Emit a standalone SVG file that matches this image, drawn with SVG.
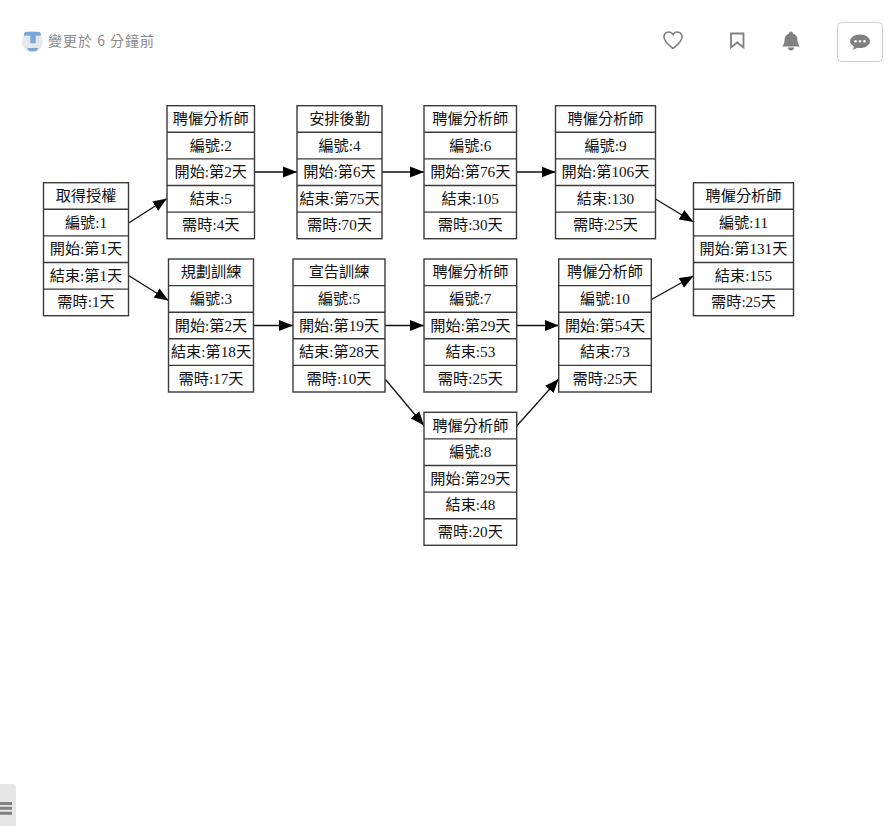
<svg xmlns="http://www.w3.org/2000/svg" width="892" height="826" viewBox="0 0 892 826">
<style>
.b{fill:#fff;stroke:#3a3a3a;stroke-width:1.4}
.r{stroke:#3a3a3a;stroke-width:1.4}
.t{font:15.2px "Liberation Serif","Noto Sans CJK TC",serif;fill:#111;text-anchor:middle}
.e{stroke:#111;stroke-width:1.3;fill:none;marker-end:url(#a)}
.i{fill:#808080}
</style>
<defs>
<marker id="a" markerUnits="userSpaceOnUse" markerWidth="15" markerHeight="12" refX="14" refY="6" orient="auto"><path d="M0 .5L14 6L0 11.500z" fill="#000"/></marker>
</defs>
<rect width="892" height="826" fill="#fff"/>
<g id="header">
<circle cx="32.300" cy="41.500" r="10.500" fill="#e6e8ec"/>
<path d="M26.500 31.700h11.500a2.800 2.800 0 0 1 2.700 4h-5v7.500h-5.400v-7.500h-6.200a2.800 2.800 0 0 1 2.400-4zM27 48h11.500a10 10 0 0 1-2.500 3.300h-6.500a10 10 0 0 1-2.500-3.300z" fill="#7ba6da"/>
<text x="48" y="46" style="font:14px 'Noto Sans CJK TC','Noto Sans',sans-serif;letter-spacing:1px" fill="#8a8a8a">變更於 6 分鐘前</text>
<path d="M673 48.500c-3-2.500-9-6.500-9-11.500a4.800 4.800 0 0 1 9-2.500a4.800 4.800 0 0 1 9 2.500c0 5-6 9-9 11.500z" fill="none" stroke="#808080" stroke-width="1.600"/>
<path d="M731 33.500h12.500v14l-6.250-5l-6.250 5z" fill="none" stroke="#808080" stroke-width="1.800"/>
<path class="i" d="M791 31.500a2 2 0 0 1 2 2c3 1 4.500 3.500 4.500 7c0 3 1.500 5 2.500 6h-18c1-1 2.500-3 2.500-6c0-3.500 1.500-6 4.500-7a2 2 0 0 1 2-2zM788 47.500h6a3 3 0 0 1-6 0z"/>
<rect x="837.500" y="22.500" width="45" height="39" rx="4" fill="#fff" stroke="#cfcfcf"/>
<path class="i" d="M860 34.500c5.500 0 10 2.900 10 6.800s-4.500 6.800-10 6.800c-1 0-2-.1-2.900-.3c-1.300 1-3 1.700-4.600 1.900c.8-.9 1.400-2 1.600-3.300c-2.500-1.200-4.100-3-4.100-5.100c0-3.900 4.500-6.800 10-6.800z"/>
<g fill="#fff"><circle cx="855.500" cy="41.300" r="1.300"/><circle cx="860" cy="41.300" r="1.300"/><circle cx="864.500" cy="41.300" r="1.300"/></g>
</g>
<g id="connectors">
<path class="e" d="M129 222.700L167 198.500"/>
<path class="e" d="M129 275.700L168.500 300.500"/>
<path class="e" d="M254.500 172H297"/>
<path class="e" d="M382 172H424"/>
<path class="e" d="M516.500 172H555.500"/>
<path class="e" d="M655.500 199L693.500 222"/>
<path class="e" d="M253.500 325.500H293"/>
<path class="e" d="M385 325.500H424"/>
<path class="e" d="M516.700 325.500H558.700"/>
<path class="e" d="M385.500 379.500L424 425.500"/>
<path class="e" d="M516.700 426L558.700 379"/>
<path class="e" d="M651.500 299.500L693.500 276"/>
</g>
<g id="n1"><rect class="b" x="43.500" y="182.700" width="85" height="133"/><path class="r" d="M43.500 209.300h85M43.500 235.900h85M43.500 262.500h85M43.500 289.100h85"/>
<text class="t" x="86" y="201">取得授權</text><text class="t" x="86" y="227.600">編號:1</text><text class="t" x="86" y="254.200">開始:第1天</text><text class="t" x="86" y="280.800">結束:第1天</text><text class="t" x="86" y="307.400">需時:1天</text></g>
<g id="n2"><rect class="b" x="167" y="105.700" width="87.500" height="133"/><path class="r" d="M167 132.300h87.500M167 158.900h87.500M167 185.500h87.500M167 212.100h87.500"/>
<text class="t" x="210.750" y="124">聘僱分析師</text><text class="t" x="210.750" y="150.600">編號:2</text><text class="t" x="210.750" y="177.200">開始:第2天</text><text class="t" x="210.750" y="203.800">結束:5</text><text class="t" x="210.750" y="230.400">需時:4天</text></g>
<g id="n3"><rect class="b" x="168.500" y="259" width="85" height="133"/><path class="r" d="M168.500 285.600h85M168.500 312.200h85M168.500 338.800h85M168.500 365.400h85"/>
<text class="t" x="211" y="277.300">規劃訓練</text><text class="t" x="211" y="303.900">編號:3</text><text class="t" x="211" y="330.500">開始:第2天</text><text class="t" x="211" y="357.100">結束:第18天</text><text class="t" x="211" y="383.700">需時:17天</text></g>
<g id="n4"><rect class="b" x="297" y="105.700" width="85" height="133"/><path class="r" d="M297 132.300h85M297 158.900h85M297 185.500h85M297 212.100h85"/>
<text class="t" x="339.500" y="124">安排後勤</text><text class="t" x="339.500" y="150.600">編號:4</text><text class="t" x="339.500" y="177.200">開始:第6天</text><text class="t" x="339.500" y="203.800">結束:第75天</text><text class="t" x="339.500" y="230.400">需時:70天</text></g>
<g id="n5"><rect class="b" x="293" y="259" width="92" height="133"/><path class="r" d="M293 285.600h92M293 312.200h92M293 338.800h92M293 365.400h92"/>
<text class="t" x="339" y="277.300">宣告訓練</text><text class="t" x="339" y="303.900">編號:5</text><text class="t" x="339" y="330.500">開始:第19天</text><text class="t" x="339" y="357.100">結束:第28天</text><text class="t" x="339" y="383.700">需時:10天</text></g>
<g id="n6"><rect class="b" x="424" y="105.700" width="92.500" height="133"/><path class="r" d="M424 132.300h92.500M424 158.900h92.500M424 185.500h92.500M424 212.100h92.500"/>
<text class="t" x="470.250" y="124">聘僱分析師</text><text class="t" x="470.250" y="150.600">編號:6</text><text class="t" x="470.250" y="177.200">開始:第76天</text><text class="t" x="470.250" y="203.800">結束:105</text><text class="t" x="470.250" y="230.400">需時:30天</text></g>
<g id="n7"><rect class="b" x="424" y="259" width="92.700" height="133"/><path class="r" d="M424 285.600h92.700M424 312.200h92.700M424 338.800h92.700M424 365.400h92.700"/>
<text class="t" x="470.350" y="277.300">聘僱分析師</text><text class="t" x="470.350" y="303.900">編號:7</text><text class="t" x="470.350" y="330.500">開始:第29天</text><text class="t" x="470.350" y="357.100">結束:53</text><text class="t" x="470.350" y="383.700">需時:25天</text></g>
<g id="n8"><rect class="b" x="424" y="412.300" width="92.700" height="133"/><path class="r" d="M424 438.900h92.700M424 465.500h92.700M424 492.100h92.700M424 518.700h92.700"/>
<text class="t" x="470.350" y="430.600">聘僱分析師</text><text class="t" x="470.350" y="457.200">編號:8</text><text class="t" x="470.350" y="483.800">開始:第29天</text><text class="t" x="470.350" y="510.400">結束:48</text><text class="t" x="470.350" y="537">需時:20天</text></g>
<g id="n9"><rect class="b" x="555.500" y="105.700" width="100" height="133"/><path class="r" d="M555.500 132.300h100M555.500 158.900h100M555.500 185.500h100M555.500 212.100h100"/>
<text class="t" x="605.500" y="124">聘僱分析師</text><text class="t" x="605.500" y="150.600">編號:9</text><text class="t" x="605.500" y="177.200">開始:第106天</text><text class="t" x="605.500" y="203.800">結束:130</text><text class="t" x="605.500" y="230.400">需時:25天</text></g>
<g id="n10"><rect class="b" x="558.700" y="259" width="92.600" height="133"/><path class="r" d="M558.700 285.600h92.600M558.700 312.200h92.600M558.700 338.800h92.600M558.700 365.400h92.600"/>
<text class="t" x="605" y="277.300">聘僱分析師</text><text class="t" x="605" y="303.900">編號:10</text><text class="t" x="605" y="330.500">開始:第54天</text><text class="t" x="605" y="357.100">結束:73</text><text class="t" x="605" y="383.700">需時:25天</text></g>
<g id="n11"><rect class="b" x="693.500" y="182.700" width="100" height="133"/><path class="r" d="M693.500 209.300h100M693.500 235.900h100M693.500 262.500h100M693.500 289.100h100"/>
<text class="t" x="743.500" y="201">聘僱分析師</text><text class="t" x="743.500" y="227.600">編號:11</text><text class="t" x="743.500" y="254.200">開始:第131天</text><text class="t" x="743.500" y="280.800">結束:155</text><text class="t" x="743.500" y="307.400">需時:25天</text></g>
<g id="tab">
<path d="M0 784h12a4 4 0 0 1 4 4v38h-16z" fill="#e6e6e6"/>
<path d="M0 802h12v3h-12zM0 806.700h12v3h-12zM0 811.700h12v3h-12z" fill="#808080"/>
</g>
</svg>
